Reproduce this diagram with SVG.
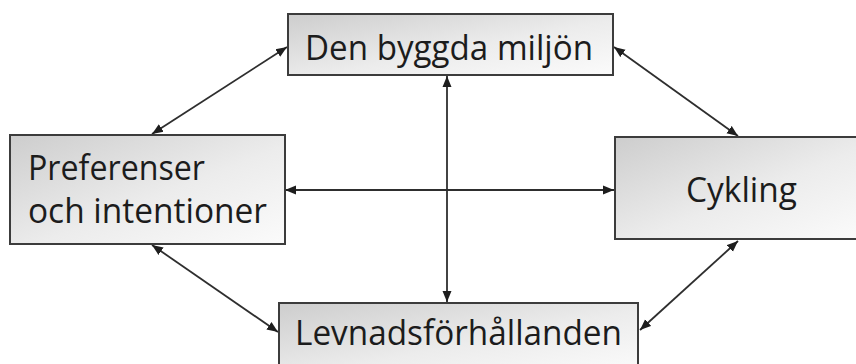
<svg xmlns="http://www.w3.org/2000/svg" width="856" height="364" viewBox="0 0 856 364">
  <style>
    .box { stroke: #3c3c3c; stroke-width: 2; fill: url(#grad); }
    .lbl { font-family: "Open Sans", "Liberation Sans", sans-serif; font-size: 35px; fill: #1c1c1c; }
    .conn { stroke: #2e2e2e; stroke-width: 1.8; fill: none; marker-start: url(#arr); marker-end: url(#arr); }
  </style>
  <defs>
    <linearGradient id="grad" x1="0" y1="0" x2="1" y2="1">
      <stop offset="0" stop-color="#cdcdcd"/>
      <stop offset="0.55" stop-color="#ececec"/>
      <stop offset="1" stop-color="#fbfbfb"/>
    </linearGradient>
    <marker id="arr" markerUnits="userSpaceOnUse" markerWidth="12" markerHeight="10" refX="11" refY="5" orient="auto-start-reverse">
      <path d="M0,0.5 L11,5 L0,9.5 z" fill="#1e1e1e"/>
    </marker>
  </defs>
  <rect width="856" height="364" fill="#ffffff"/>
  <g id="connectors">
    <line class="conn" x1="287" y1="47" x2="152" y2="134"/>
    <line class="conn" x1="614" y1="47" x2="738" y2="136"/>
    <line class="conn" x1="152" y1="245" x2="278" y2="332"/>
    <line class="conn" x1="738" y1="241" x2="640" y2="330"/>
    <line class="conn" x1="285" y1="190" x2="614" y2="190"/>
    <line class="conn" x1="447" y1="76" x2="447" y2="302"/>
  </g>
  <g id="node-miljo">
    <rect class="box" x="288" y="14" width="325" height="61"/>
    <text class="lbl" x="305" y="60" textLength="288" lengthAdjust="spacingAndGlyphs">Den byggda miljön</text>
  </g>
  <g id="node-preferenser">
    <rect class="box" x="10" y="135" width="275" height="109"/>
    <text class="lbl" x="28" y="180" textLength="177" lengthAdjust="spacingAndGlyphs">Preferenser</text>
    <text class="lbl" x="28" y="223" textLength="239" lengthAdjust="spacingAndGlyphs">och intentioner</text>
  </g>
  <g id="node-cykling">
    <rect class="box" x="615" y="137" width="250" height="102"/>
    <text class="lbl" x="686" y="202" textLength="111" lengthAdjust="spacingAndGlyphs">Cykling</text>
  </g>
  <g id="node-levnad">
    <rect class="box" x="279" y="303" width="359" height="70"/>
    <text class="lbl" x="295" y="345" textLength="327" lengthAdjust="spacingAndGlyphs">Levnadsförhållanden</text>
  </g>
</svg>
